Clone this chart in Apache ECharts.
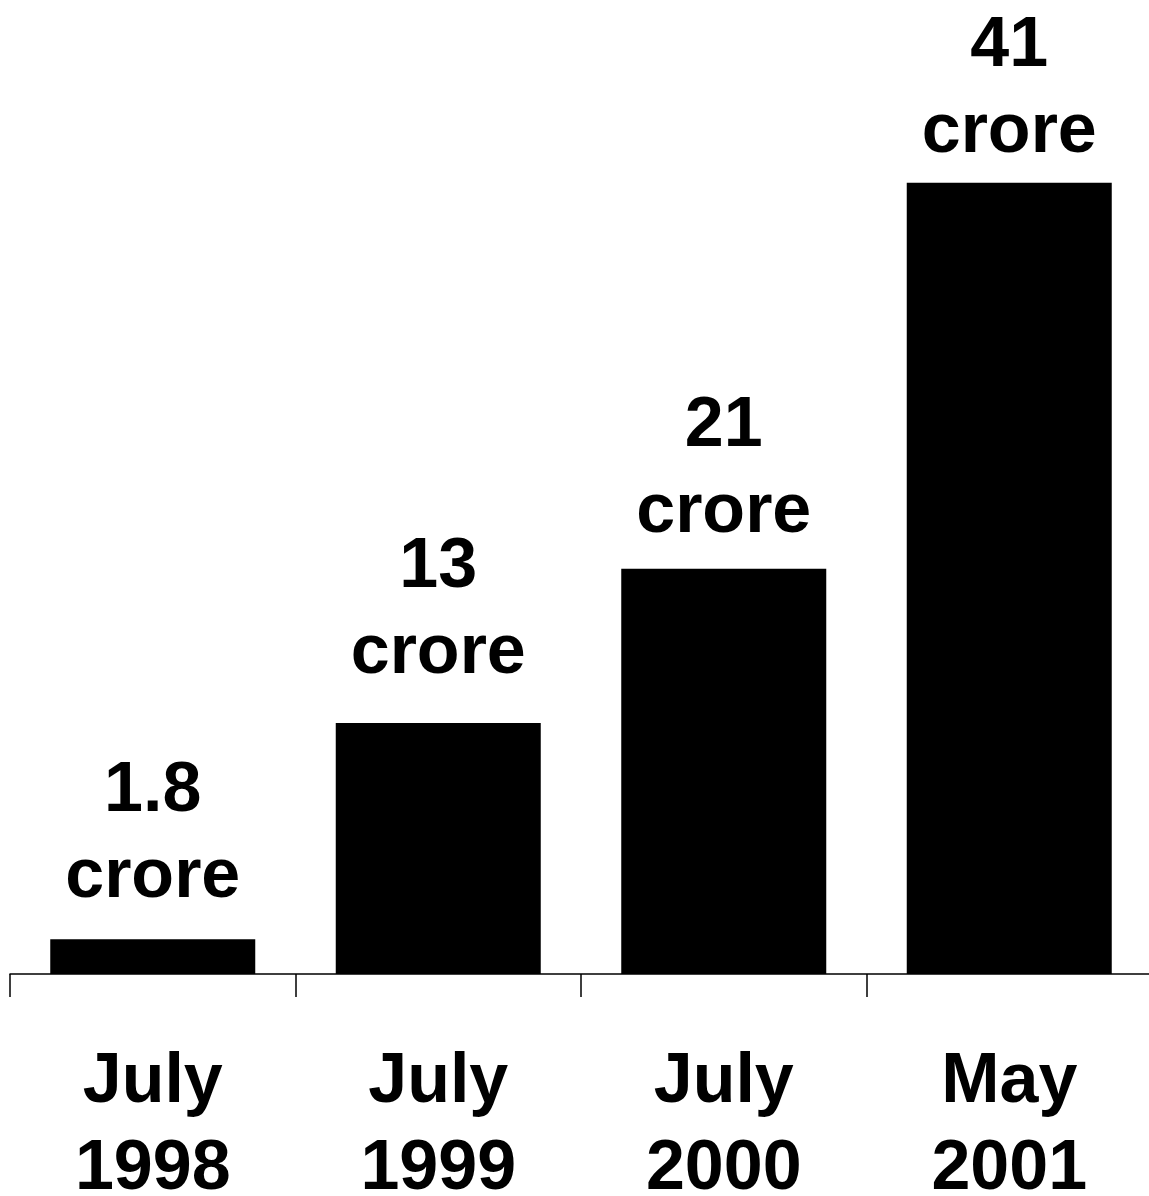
<!DOCTYPE html>
<html>
<head>
<meta charset="utf-8">
<script src="https://cdn.jsdelivr.net/npm/echarts@6/dist/echarts.min.js"></script>
<style>
  html, body { margin: 0; padding: 0; background: #fff; }
  #chart { width: 1149px; height: 1196px; }
</style>
</head>
<body>
<div id="chart"></div>
<script>
// data
const periods = ['July\n1998', 'July\n1999', 'July\n2000', 'May\n2001'];
const crores = [1.8, 13, 21, 41];
const valueLabels = ['1.8', '13', '21', '41'];

// the labels in the original sit at slightly different gaps above each bar
const labelGaps = [19, 26, 13, 7];

const chart = echarts.init(document.getElementById('chart'));

chart.setOption({
  animation: false,
  backgroundColor: '#fff',
  grid: { left: 10, right: -3, top: 9, bottom: 222, containLabel: false, outerBoundsMode: 'none' },
  xAxis: {
    type: 'category',
    data: periods,
    boundaryGap: true,
    axisLine: { lineStyle: { color: '#000', width: 1.5 } },
    axisTick: { show: true, length: 23, lineStyle: { color: '#000', width: 1.5 } },
    axisLabel: {
      color: '#000',
      fontFamily: 'Liberation Sans, Arial, sans-serif',
      fontWeight: 'bold',
      fontSize: 70,
      lineHeight: 87,
      margin: 65
    }
  },
  yAxis: {
    type: 'value',
    min: 0,
    max: 50,
    show: false
  },
  series: [
    {
      type: 'bar',
      data: crores.map((v, i) => ({ value: v, label: { distance: labelGaps[i] } })),
      barWidth: 205,
      itemStyle: { color: '#000' },
      label: {
        show: true,
        position: 'top',
        color: '#000',
        fontFamily: 'Liberation Sans, Arial, sans-serif',
        fontWeight: 'bold',
        fontSize: 70,
        lineHeight: 86,
        formatter: (p) => valueLabels[p.dataIndex] + '\ncrore'
      }
    }
  ]
});
</script>
</body>
</html>
